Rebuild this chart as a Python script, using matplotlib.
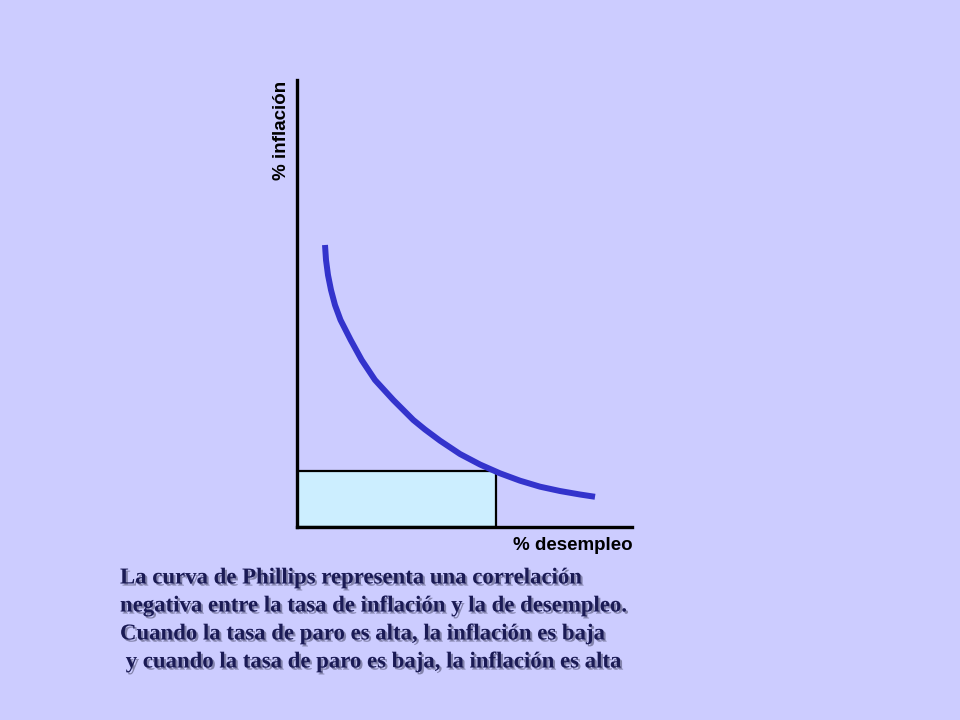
import matplotlib
matplotlib.use("Agg")
import matplotlib.pyplot as plt
import matplotlib.patheffects as pe
from matplotlib.patches import Rectangle

# Curve points (x: % desempleo, y: % inflación), axis units 0..100
curve_x = [8.36, 8.66, 9.25, 10.15, 11.34, 12.99, 16.03, 19.31, 23.28, 28.75, 34.72, 38.21,
           42.69, 48.66, 54.63, 60.60, 66.57, 72.54, 78.51, 84.48, 88.96]
curve_y = [63.09, 59.73, 56.38, 53.02, 49.66, 46.31, 41.83, 37.36, 32.89, 28.41, 23.94, 21.81,
           19.31, 16.33, 13.98, 12.01, 10.36, 9.02, 8.05, 7.27, 6.76]
rect_x = 59.4
rect_y = 12.5
x_label = "% desempleo"
y_label = "% inflación"
caption = [
    "La curva de Phillips representa una correlación",
    "negativa entre la tasa de inflación y la de desempleo.",
    "Cuando la tasa de paro es alta, la inflación es baja",
    " y cuando la tasa de paro es baja, la inflación es alta",
]

bg = "#CCCCFF"
fig = plt.figure(figsize=(9.6, 7.2), dpi=100, facecolor=bg)

W, H = 960, 720
left, right, top, bottom = 297, 632, 80, 527
ax = fig.add_axes([left / W, (H - bottom) / H, (right - left) / W, (bottom - top) / H])
ax.set_facecolor("none")
ax.set_xlim(0, 100)
ax.set_ylim(0, 100)
for s in ["top", "right"]:
    ax.spines[s].set_visible(False)
for s in ["left", "bottom"]:
    ax.spines[s].set_linewidth(2.4)
    ax.spines[s].set_color("black")
ax.set_xticks([])
ax.set_yticks([])

ax.add_patch(Rectangle((0, 0), rect_x, rect_y, facecolor="#CCEEFF", edgecolor="black", linewidth=1.6, zorder=2))
ax.plot(curve_x, curve_y, color="#3333CC", linewidth=4.3, solid_capstyle="butt",
        solid_joinstyle="round", zorder=3)

fig.text(282 / W, 1 - 130 / H, y_label, rotation=90, ha="center", va="center",
         fontsize=13.5, fontweight="bold", family="Liberation Sans", color="black")
fig.text(633 / W, 1 - 546 / H, x_label, ha="right", va="center",
         fontsize=13.5, fontweight="bold", family="Liberation Sans", color="black")

ys = [578, 606, 634, 662]
xs = [120, 120, 120, 120]
for t, x, y in zip(caption, xs, ys):
    fig.text(x / W, 1 - y / H, t, ha="left", va="center", fontsize=16.4, fontweight="bold",
             family="Liberation Serif", color="#1A1A55",
             path_effects=[pe.withSimplePatchShadow(offset=(1.5, -1.5), shadow_rgbFace="#555577", alpha=0.6)])

fig.savefig("out.png", dpi=100, facecolor=bg)
